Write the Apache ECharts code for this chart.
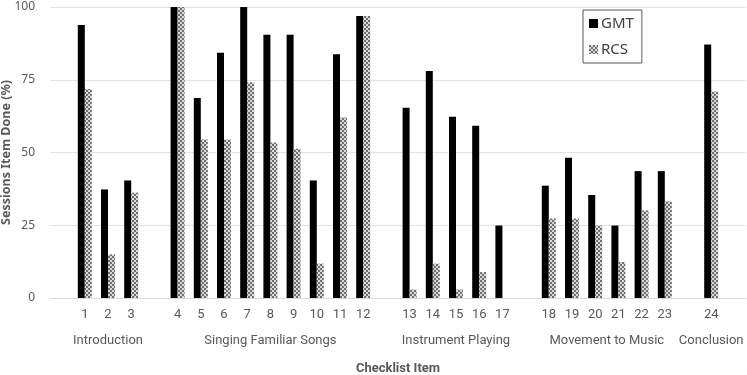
<!DOCTYPE html>
<html>
<head>
<meta charset="utf-8">
<script src="https://cdn.jsdelivr.net/npm/echarts@6/dist/echarts.min.js"></script>
<style>
  html, body { margin: 0; padding: 0; background: #fff; }
  #chartArea { width: 747px; height: 375px; }
</style>
</head>
<body>
<div id="chartArea"></div>
<script>
// blank slots ('') separate the activity groups
let categories = ['', '1', '2', '3', '', '4', '5', '6', '7', '8', '9', '10', '11', '12', '',
    '13', '14', '15', '16', '17', '', '18', '19', '20', '21', '22', '23', '', '24', ''];
let gmtValues = [null, 93.8, 37.3, 40.4, null, 100, 68.7, 84.3, 100, 90.5, 90.5, 40.4, 83.8, 96.9, null,
    65.4, 78.0, 62.3, 59.2, 24.9, null, 38.6, 48.2, 35.4, 24.9, 43.6, 43.6, null, 87.1, null];
let rcsValues = [null, 71.8, 15.0, 36.2, null, 100, 54.5, 54.5, 74.1, 53.4, 51.3, 11.8, 62.0, 96.9, null,
    2.9, 11.8, 2.9, 8.9, 0, null, 27.3, 27.3, 24.9, 12.4, 30.1, 33.2, null, 71.0, null];
let groupNames = ['Introduction', 'Singing Familiar Songs', 'Instrument Playing', 'Movement to Music', 'Conclusion'];
let groupCenters = [2.5, 9.5, 17.5, 24, 28.5];
let yTicks = [0, 25, 50, 75, 100];

let narrowFont = '"Liberation Sans Narrow", Roboto, sans-serif';
let mainFont = '"Noto Sans", "Open Sans", sans-serif';

function checkerPattern() {
    let c = document.createElement('canvas');
    c.width = 4;
    c.height = 4;
    let ctx = c.getContext('2d');
    ctx.fillStyle = '#d9d9d9';
    ctx.fillRect(0, 0, 4, 4);
    ctx.fillStyle = '#6f6f6f';
    ctx.fillRect(0, 0, 2, 2);
    ctx.fillRect(2, 2, 2, 2);
    return c;
}

let myChart = echarts.init(document.getElementById('chartArea'));
let pattern = {image: checkerPattern(), repeat: 'repeat'};

let groupLabel = {};
for (let i = 0; i < groupNames.length; i++) {
    groupLabel[groupCenters[i]] = groupNames[i];
}

let option = {
    animation: false,
    grid: {left: 50, right: 1, top: 7, bottom: 77, containLabel: false, outerBoundsMode: 'none'},
    legend: {
        orient: 'vertical',
        left: 583,
        top: 10,
        padding: [6, 8, 6, 6],
        borderColor: '#595959',
        borderWidth: 1,
        itemWidth: 9,
        itemHeight: 9,
        itemGap: 11,
        textStyle: {fontFamily: mainFont, fontSize: 15, color: '#404040', padding: [0, 0, 0, -2]},
        data: [
            {name: 'GMT', icon: 'rect'},
            {name: 'RCS', icon: 'rect'}
        ]
    },
    xAxis: [
        {
            type: 'category',
            data: categories,
            axisLine: {show: true, lineStyle: {color: '#d9d9d9'}},
            axisTick: {show: false},
            axisLabel: {
                interval: 0,
                margin: 10,
                fontFamily: narrowFont,
                fontSize: 13,
                color: '#595959'
            },
            name: 'Checklist Item',
            nameLocation: 'middle',
            nameGap: 64,
            nameTextStyle: {fontFamily: narrowFont, fontSize: 13, fontWeight: 'bold', color: '#595959'}
        },
        {
            type: 'value',
            position: 'bottom',
            min: 0,
            max: 30,
            interval: 0.5,
            axisLine: {show: false},
            axisTick: {show: false},
            splitLine: {show: false},
            axisLabel: {
                margin: 36,
                fontFamily: narrowFont,
                fontSize: 13,
                color: '#595959',
                formatter: function (v) {
                    return groupLabel[v] || '';
                }
            }
        }
    ],
    yAxis: {
        type: 'value',
        min: yTicks[0],
        max: yTicks[yTicks.length - 1],
        interval: 25,
        axisLine: {show: false},
        axisTick: {show: false},
        splitLine: {lineStyle: {color: '#e3e3e3'}},
        axisLabel: {margin: 15, fontFamily: mainFont, fontSize: 12, color: '#595959'},
        name: 'Sessions Item Done (%)',
        nameLocation: 'middle',
        nameGap: 37,
        nameMoveOverlap: false,
        nameTextStyle: {fontFamily: mainFont, fontSize: 12.5, fontWeight: 'bold', color: '#595959'}
    },
    series: [
        {
            name: 'GMT',
            type: 'bar',
            data: gmtValues,
            barWidth: 7,
            barGap: '0%',
            itemStyle: {color: '#000000'}
        },
        {
            name: 'RCS',
            type: 'bar',
            data: rcsValues,
            barWidth: 7,
            barGap: '0%',
            itemStyle: {color: pattern, borderWidth: 0}
        }
    ]
};

myChart.setOption(option);
</script>
</body>
</html>
